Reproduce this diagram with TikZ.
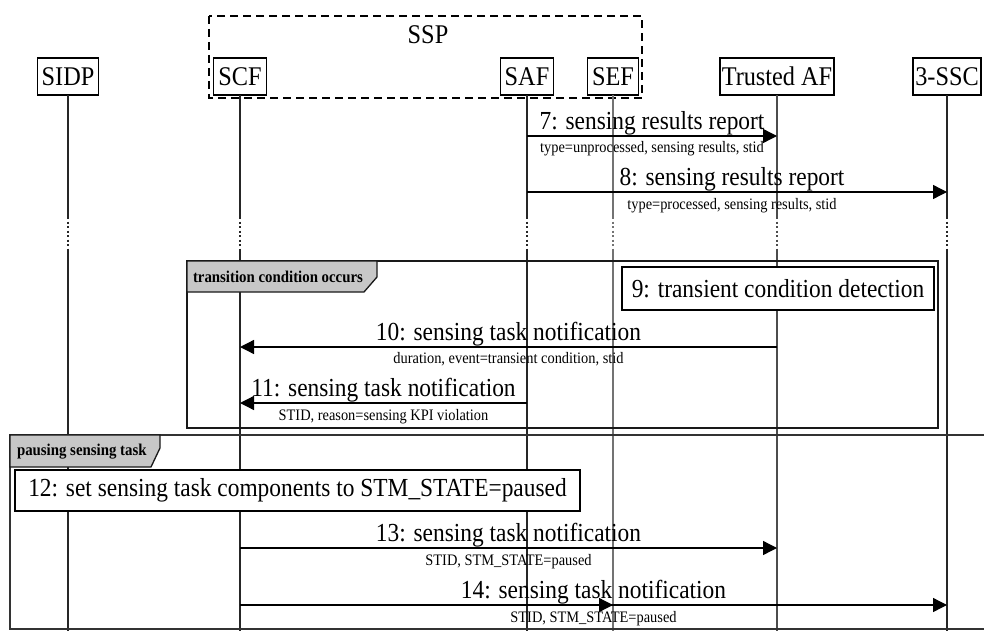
\documentclass[tikz,border=0pt]{standalone}
\usepackage{fontspec}
\setmainfont{Liberation Serif}[FakeStretch=0.9]
\usetikzlibrary{arrows.meta}

\newcommand\headfont{\fontsize{27}{29}\selectfont}
\newcommand\msgfont{\fontsize{26}{28}\selectfont}
\newcommand\subfont{\fontsize{16}{18}\selectfont}
\newcommand\tagfont{\fontsize{16.5}{18}\selectfont\bfseries}

\begin{document}
\begin{tikzpicture}[x=1pt,y=-1pt,
  every node/.style={inner sep=0pt, outer sep=0pt},
  head/.style={draw, line width=1.3pt, minimum height=37pt, font=\headfont},
  life/.style={line width=1.3pt, draw=black!85},
  lifedots/.style={life, dash pattern=on 2pt off 2.5pt},
  msg/.style={line width=1.3pt, -{Triangle[length=14pt,width=14pt]}},
  msglbl/.style={font=\msgfont},
  sublbl/.style={font=\subfont},
  note/.style={draw, fill=white, line width=1.3pt, font=\msgfont},
  frame/.style={line width=1.6pt, draw=black!90},
  tagbox/.style={fill=black!22, draw=black!90, line width=1.3pt},
  tagtext/.style={font=\tagfont, anchor=west},
  group/.style={draw, line width=1.5pt, dash pattern=on 8pt off 5pt}
]
\useasboundingbox (0,0) rectangle (984,631);

% rows used by the lifelines and messages
\coordinate (gapA) at (0,217);
\coordinate (gapB) at (0,250);
\coordinate (bottom) at (0,631);
\coordinate (r7) at (0,136);
\coordinate (r8) at (0,192);
\coordinate (r10) at (0,347);
\coordinate (r11) at (0,403);
\coordinate (r13) at (0,548);
\coordinate (r14) at (0,605);

% SSP grouping box
\draw[group] (209,16) rectangle (642,98);
\node[font=\headfont] (ssp) at (428,35) {SSP};

% participants
\node[head, minimum width=61pt] (SIDP) at (68,76.5) {SIDP};
\node[head, minimum width=53pt] (SCF) at (240,76.5) {SCF};
\node[head, minimum width=53pt] (SAF) at (527,76.5) {SAF};
\node[head, minimum width=51pt] (SEF) at (613,76.5) {SEF};
\node[head, minimum width=114pt] (TAF) at (777,76.5) {Trusted AF};
\node[head, minimum width=68pt] (SSC) at (947,76.5) {3-SSC};

% lifelines with a dotted break
\foreach \p/\c in {SIDP/black!85, SCF/black!85, SAF/black!85, SEF/black!55, TAF/black!70, SSC/black!85} {
  \draw[life, draw=\c] (\p.south) -- (\p |- gapA);
  \draw[lifedots, draw=\c] (\p |- gapA) -- (\p |- gapB);
  \draw[life, draw=\c] (\p |- gapB) -- (\p |- bottom);
}

% messages 7 and 8
\draw[msg] (SAF |- r7) -- node[above=1pt, msglbl] {7: sensing results report}
  node[below=5pt, sublbl] {type=unprocessed, sensing results, stid} (TAF |- r7);
\draw[msg] (SAF |- r8) -- node[above=1pt, msglbl, xshift=-5pt] {8: sensing results report}
  node[below=6pt, sublbl, xshift=-5pt] {type=processed, sensing results, stid} (SSC |- r8);

% fragment: transition condition occurs
\draw[frame] (187,261) rectangle (938,428);
\draw[tagbox] (187,261) -- (377,261) -- (377,277) -- (364,292) -- (187,292) -- cycle;
\node[tagtext] (tagA) at (193,277) {transition condition occurs};
\node[note, minimum width=312pt, minimum height=43pt] (n9) at (778,288.5) {9: transient condition detection};

\draw[msg] (TAF |- r10) -- node[above=1pt, msglbl] {10: sensing task notification}
  node[below=5pt, sublbl] {duration, event=transient condition, stid} (SCF |- r10);
\draw[msg] (SAF |- r11) -- node[above=1pt, msglbl] {11: sensing task notification}
  node[below=6pt, sublbl] {STID, reason=sensing KPI violation} (SCF |- r11);

% fragment: pausing sensing task
\draw[frame, draw=black!80] (984,435) -- (10,435) -- (10,629) -- (984,629);
\draw[tagbox] (10,435) -- (160,435) -- (160,448) -- (151,467) -- (10,467) -- cycle;
\node[tagtext] (tagB) at (17,452) {pausing sensing task};
\node[note, minimum width=565pt, minimum height=41pt] (n12) at (297.5,490.5) {12: set sensing task components to STM\_STATE=paused};

\draw[msg] (SCF |- r13) -- node[above=1pt, msglbl] {13: sensing task notification}
  node[below=6pt, sublbl] {STID, STM\_STATE=paused} (TAF |- r13);
\draw[msg] (SCF |- r14) -- (SEF |- r14);
\draw[msg] (SCF |- r14) -- node[above=1pt, msglbl] {14: sensing task notification}
  node[below=6pt, sublbl] {STID, STM\_STATE=paused} (SSC |- r14);
\end{tikzpicture}
\end{document}
